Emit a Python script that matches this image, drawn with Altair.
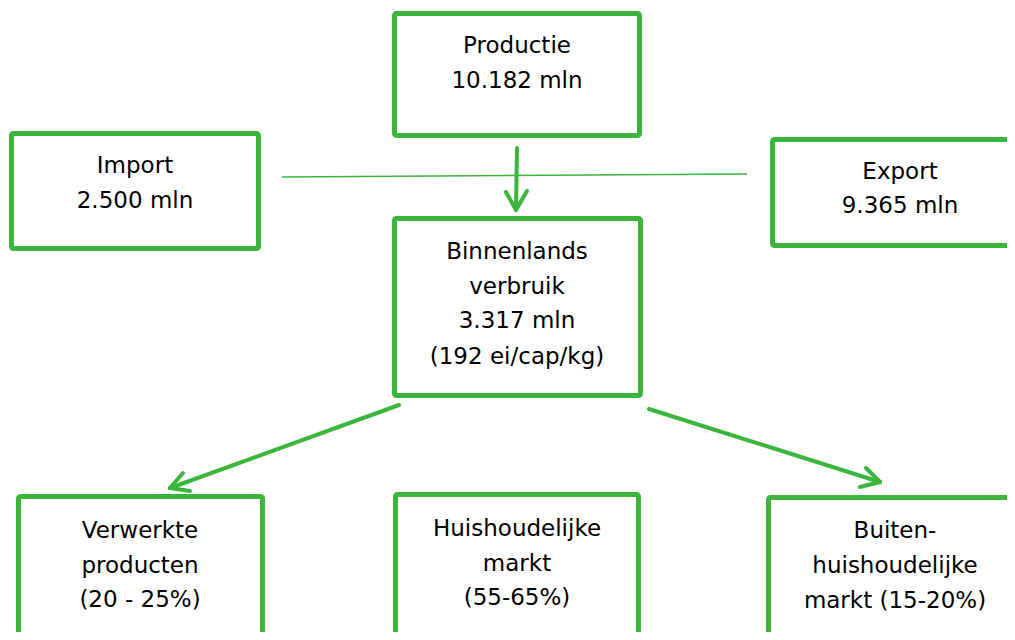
import altair as alt
import pandas as pd

# ---- content ----
box_names = ["Productie", "Import", "Export", "Binnenlands", "Verwerkte", "Huishoudelijk", "Buiten"]
box_x1 = [394.5, 11.5, 772.5, 394.5, 18.5, 395.5, 768.5]
box_x2 = [639.5, 258.5, 1030, 640.5, 262.5, 638.5, 1030]
box_y1 = [13.5, 133.5, 139.5, 218.5, 496.5, 494.5, 497.5]
box_y2 = [135.5, 248.5, 245.5, 395.5, 680, 680, 680]

text_lines = [
    "Productie", "10.182 mln",
    "Import", "2.500 mln",
    "Export", "9.365 mln",
    "Binnenlands", "verbruik", "3.317 mln", "(192 ei/cap/kg)",
    "Verwerkte", "producten", "(20 - 25%)",
    "Huishoudelijke", "markt", "(55-65%)",
    "Buiten-", "huishoudelijke", "markt (15-20%)",
]
text_x = [517, 517, 135, 135, 900, 900, 517, 517, 517, 517,
          140, 140, 140, 517, 517, 517, 895, 895, 895]
text_y = [46, 81, 166, 201, 172, 206, 252, 287, 321, 357,
          531, 566, 600, 529, 564, 598, 531, 566, 601]

# arrows (shaft + two arrowhead arms)
seg_x1 = [517, 506, 527, 399, 183, 190, 649, 866, 860]
seg_y1 = [148, 192, 191, 405, 473, 491, 409, 468, 487]
seg_x2 = [516, 516, 516, 170, 170, 170, 880, 880, 880]
seg_y2 = [209, 210, 210, 488, 488, 488, 482, 482, 482]

# thin connector line
thin_x1 = [282]
thin_y1 = [177]
thin_x2 = [747]
thin_y2 = [174]

GREEN = "#3cb53c"
W, H = 999, 624
OFF = 8

boxes = pd.DataFrame({"name": box_names, "x1": box_x1, "x2": box_x2, "y1": box_y1, "y2": box_y2})
texts = pd.DataFrame({"t": text_lines, "x": text_x, "y": text_y})
segs = pd.DataFrame({"x1": seg_x1, "y1": seg_y1, "x2": seg_x2, "y2": seg_y2})
thin = pd.DataFrame({"x1": thin_x1, "y1": thin_y1, "x2": thin_x2, "y2": thin_y2})

xs = alt.Scale(domain=[OFF, OFF + W], nice=False, zero=False)
ys = alt.Scale(domain=[OFF, OFF + H], nice=False, zero=False, reverse=True)

rects = alt.Chart(boxes).mark_rect(
    fill="white", stroke=GREEN, strokeWidth=5, cornerRadius=2, clip=True
).encode(
    x=alt.X("x1:Q", scale=xs, axis=None),
    x2="x2:Q",
    y=alt.Y("y1:Q", scale=ys, axis=None),
    y2="y2:Q",
)

labels = alt.Chart(texts).mark_text(
    font="DejaVu Sans", fontSize=23, color="#000000", align="center", baseline="middle"
).encode(
    x=alt.X("x:Q", scale=xs, axis=None),
    y=alt.Y("y:Q", scale=ys, axis=None),
    text="t:N",
)

arrows = alt.Chart(segs).mark_rule(
    color=GREEN, strokeWidth=4, strokeCap="round"
).encode(
    x=alt.X("x1:Q", scale=xs, axis=None),
    y=alt.Y("y1:Q", scale=ys, axis=None),
    x2="x2:Q",
    y2="y2:Q",
)

thin_line = alt.Chart(thin).mark_rule(
    color=GREEN, strokeWidth=1.6
).encode(
    x=alt.X("x1:Q", scale=xs, axis=None),
    y=alt.Y("y1:Q", scale=ys, axis=None),
    x2="x2:Q",
    y2="y2:Q",
)

chart = alt.layer(thin_line, rects, arrows, labels).properties(
    width=W, height=H, padding=0
).configure_view(stroke=None)

chart.save("out.html", embed_options={"renderer": "svg", "actions": False})
